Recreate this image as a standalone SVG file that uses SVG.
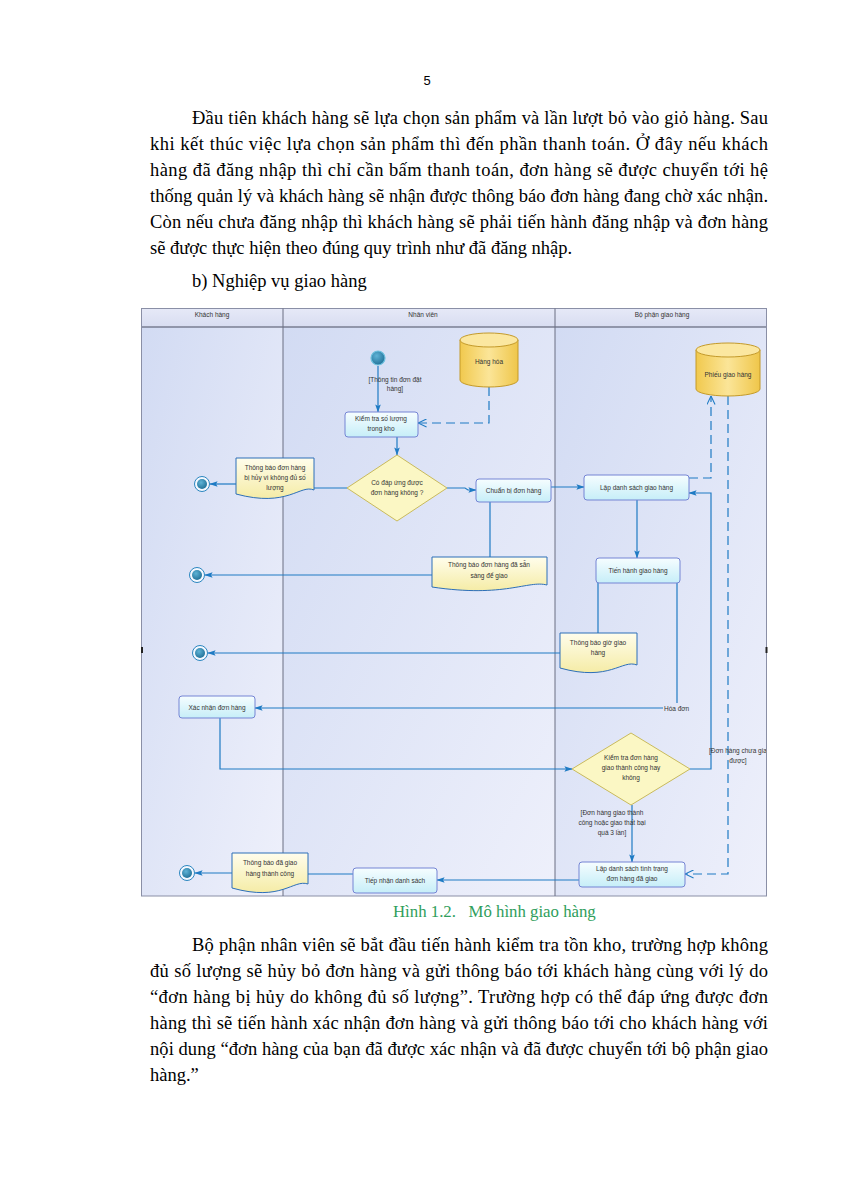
<svg xmlns="http://www.w3.org/2000/svg" width="849" height="1200" viewBox="0 0 849 1200">
<style>
.body{font-family:"Liberation Serif","Times New Roman",serif;font-size:18.5px;fill:#000}
.cap{font-family:"Liberation Serif","Times New Roman",serif;font-size:16.8px;fill:#2f9e5c}
.t{font-family:"Liberation Sans",Arial,sans-serif;font-size:6.5px;fill:#333;text-anchor:middle}
.ts{font-family:"Liberation Sans",Arial,sans-serif;font-size:6.5px;fill:#333}
.box{fill:url(#gBox);stroke:#7484d4;stroke-width:1}
.doc{fill:url(#gDoc);stroke:#2d6fb8;stroke-width:1}
.dia{fill:#fbf7c4;stroke:#c9ba5c;stroke-width:1}
.cyl{fill:url(#gCyl);stroke:#c49a2a;stroke-width:1}
.cylTop{fill:#fbe7a0;stroke:#c49a2a;stroke-width:1}
.c{fill:none;stroke:#1f7bc4;stroke-width:1.2}
.ca{fill:none;stroke:#1f7bc4;stroke-width:1.2;marker-end:url(#arr)}
.cd{fill:none;stroke:#1f7bc4;stroke-width:1.2;stroke-dasharray:9,5;marker-end:url(#open)}
.lane{fill:url(#gLane)}
</style>
<defs>
<linearGradient id="gLane" x1="0" y1="0" x2="1" y2="1">
<stop offset="0" stop-color="#d2dbf3"/>
<stop offset="1" stop-color="#eef0fb"/>
</linearGradient>
<linearGradient id="gHead" x1="0" y1="0" x2="0" y2="1">
<stop offset="0" stop-color="#e6e9f7"/>
<stop offset="1" stop-color="#d8ddf1"/>
</linearGradient>
<linearGradient id="gBox" x1="0" y1="0" x2="0" y2="1">
<stop offset="0" stop-color="#f6fdff"/>
<stop offset="1" stop-color="#c6eef8"/>
</linearGradient>
<linearGradient id="gDoc" x1="0" y1="0" x2="0" y2="1">
<stop offset="0" stop-color="#fffdec"/>
<stop offset="1" stop-color="#f5eca6"/>
</linearGradient>
<linearGradient id="gCyl" x1="0" y1="0" x2="1" y2="0">
<stop offset="0" stop-color="#f1c94e"/>
<stop offset="0.5" stop-color="#fbe598"/>
<stop offset="1" stop-color="#efc64a"/>
</linearGradient>
<radialGradient id="gNode" cx="0.4" cy="0.35" r="0.7">
<stop offset="0" stop-color="#5fb3d6"/>
<stop offset="1" stop-color="#1f6f96"/>
</radialGradient>
<marker id="arr" viewBox="0 0 10 8" refX="9.5" refY="4" markerWidth="8" markerHeight="6.5" markerUnits="userSpaceOnUse" orient="auto">
<path d="M0,0.5 L10,4 L0,7.5 L2,4 Z" fill="#1f7bc4"/>
</marker>
<marker id="open" viewBox="0 0 10 10" refX="9.5" refY="5" markerWidth="9" markerHeight="9" markerUnits="userSpaceOnUse" orient="auto">
<path d="M0,0.5 L9.5,5 L0,9.5" fill="none" stroke="#1f7bc4" stroke-width="1.2"/>
</marker>
<clipPath id="frameClip"><rect x="141" y="308" width="625" height="588"/></clipPath>
</defs>

<rect x="0" y="0" width="849" height="1200" fill="#fff"/>

<!-- page text -->
<text x="427" y="85" font-family="Liberation Sans,Arial,sans-serif" font-size="13" text-anchor="middle">5</text>
<text class="body" x="192" y="124" textLength="576" lengthAdjust="spacing">Đầu tiên khách hàng sẽ lựa chọn sản phẩm và lần lượt bỏ vào giỏ hàng. Sau</text>
<text class="body" x="150" y="150" textLength="618" lengthAdjust="spacing">khi kết thúc việc lựa chọn sản phẩm thì đến phần thanh toán. Ở đây nếu khách</text>
<text class="body" x="150" y="176" textLength="618" lengthAdjust="spacing">hàng đã đăng nhập thì chỉ cần bấm thanh toán, đơn hàng sẽ được chuyển tới hệ</text>
<text class="body" x="150" y="202" textLength="618" lengthAdjust="spacing">thống quản lý và khách hàng sẽ nhận được thông báo đơn hàng đang chờ xác nhận.</text>
<text class="body" x="150" y="228" textLength="618" lengthAdjust="spacing">Còn nếu chưa đăng nhập thì khách hàng sẽ phải tiến hành đăng nhập và đơn hàng</text>
<text class="body" x="150" y="254">sẽ được thực hiện theo đúng quy trình như đã đăng nhập.</text>
<text class="body" x="192" y="287">b) Nghiệp vụ giao hàng</text>

<!-- swimlanes -->
<g id="swimlanes">
<rect class="lane" x="141.5" y="327" width="141.5" height="569"/>
<rect class="lane" x="283" y="327" width="272" height="569"/>
<rect class="lane" x="555" y="327" width="211.5" height="569"/>
<rect x="141.5" y="308.5" width="625" height="18.5" fill="url(#gHead)"/>
<line x1="141.5" y1="327" x2="766.5" y2="327" stroke="#4a4f63" stroke-width="1.2"/>
<rect x="141.5" y="308.5" width="625" height="587.5" fill="none" stroke="#8a8fa6" stroke-width="1"/>
<line x1="283" y1="308.5" x2="283" y2="896" stroke="#6a6f82" stroke-width="1"/>
<line x1="555" y1="308.5" x2="555" y2="896" stroke="#6a6f82" stroke-width="1"/>
<text class="t" x="212" y="317">Khách hàng</text>
<text class="t" x="423" y="317">Nhân viên</text>
<text class="t" x="662" y="317">Bộ phận giao hàng</text>
<rect x="141" y="647" width="2" height="6" fill="#222"/>
<rect x="765.5" y="647" width="2" height="6" fill="#222"/>
</g>

<!-- connectors -->
<g id="connectors">
<path class="ca" d="M378,366 V412"/>
<path class="ca" d="M397,437 V455"/>
<path class="cd" d="M489,387 V423 H418"/>
<path class="c" d="M347,488 H314"/>
<path class="ca" d="M236,484 H210"/>
<path class="ca" d="M447,488 H465 L468,490 H476"/>
<path class="ca" d="M551,487 H584"/>
<path class="c" d="M490,502 V557"/>
<path class="ca" d="M432,575 H205"/>
<path class="cd" d="M689,478 H711 V396"/>
<path class="ca" d="M637,500 V558"/>
<path class="c" d="M598,583 V633"/>
<path class="ca" d="M560,653 H208"/>
<path class="c" d="M677,583 V703"/>
<path class="ca" d="M663,708 H255"/>
<path class="ca" d="M220,718 V769 H572"/>
<path class="ca" d="M690,769 H711 V493 H689"/>
<path class="ca" d="M632,805 V862"/>
<path class="cd" d="M728,396 V874 H685"/>
<path class="ca" d="M579,880 H437"/>
<path class="c" d="M353,874 H308"/>
<path class="ca" d="M232,873 H195"/>
<text class="t" x="395" y="382">[Thông tin đơn đặt</text>
<text class="t" x="395" y="391">hàng]</text>
<text class="ts" x="664" y="710.5">Hóa đơn</text>
<g clip-path="url(#frameClip)">
<text class="ts" x="709" y="753">[Đơn hàng chưa giao</text>
<text class="t" x="738" y="763">được]</text>
</g>
<text class="t" x="612" y="815">[Đơn hàng giao thành</text>
<text class="t" x="612" y="825">công hoặc giao thất bại</text>
<text class="t" x="612" y="835">quá 3 lần]</text>
</g>

<!-- nodes -->
<g id="start">
<circle cx="378" cy="358" r="7" fill="url(#gNode)" stroke="#6cc0de" stroke-width="1.2"/>
</g>
<g id="end1">
<circle cx="202" cy="484" r="7.5" fill="#f4f8ff" stroke="#2a86c0" stroke-width="1"/>
<circle cx="202" cy="484" r="5" fill="url(#gNode)"/>
</g>
<g id="end2">
<circle cx="197" cy="575" r="7.5" fill="#f4f8ff" stroke="#2a86c0" stroke-width="1"/>
<circle cx="197" cy="575" r="5" fill="url(#gNode)"/>
</g>
<g id="end3">
<circle cx="200" cy="653" r="7.5" fill="#f4f8ff" stroke="#2a86c0" stroke-width="1"/>
<circle cx="200" cy="653" r="5" fill="url(#gNode)"/>
</g>
<g id="end4">
<circle cx="187" cy="873" r="7.5" fill="#f4f8ff" stroke="#2a86c0" stroke-width="1"/>
<circle cx="187" cy="873" r="5" fill="url(#gNode)"/>
</g>

<g id="hanghoa">
<path class="cyl" d="M460,340 V380 A29,7 0 0 0 518,380 V340 Z"/>
<ellipse class="cylTop" cx="489" cy="340" rx="29" ry="7"/>
<text class="t" x="489" y="364">Hàng hóa</text>
</g>
<g id="phieugiaohang">
<path class="cyl" d="M696,350 V389 A32,7 0 0 0 760,389 V350 Z"/>
<ellipse class="cylTop" cx="728" cy="350" rx="32" ry="7"/>
<text class="t" x="728" y="377">Phiếu giao hàng</text>
</g>

<g id="kiemtra">
<rect class="box" x="345" y="412" width="73" height="25" rx="3"/>
<text class="t" x="381" y="421">Kiểm tra số lượng</text>
<text class="t" x="381" y="431">trong kho</text>
</g>
<g id="codapung">
<polygon class="dia" points="397,455 447,488 397,521 347,488"/>
<text class="t" x="397" y="485">Có đáp ứng được</text>
<text class="t" x="397" y="495">đơn hàng không ?</text>
</g>
<g id="huy">
<path class="doc" d="M236,458 H314 V490 C300,484 288,508 236,494 Z"/>
<text class="t" x="275" y="470">Thông báo đơn hàng</text>
<text class="t" x="275" y="480">bị hủy vì không đủ số</text>
<text class="t" x="275" y="490">lượng</text>
</g>
<g id="chuanbi">
<rect class="box" x="476" y="479" width="75" height="23" rx="3"/>
<text class="t" x="513.5" y="492.5">Chuẩn bị đơn hàng</text>
</g>
<g id="sansang">
<path class="doc" d="M432,557 H547 V585 C528,580 505,598 432,587 Z"/>
<text class="t" x="489" y="567">Thông báo đơn hàng đã sẵn</text>
<text class="t" x="489" y="578">sàng để giao</text>
</g>
<g id="lapdanhsach">
<rect class="box" x="584" y="475" width="105" height="25" rx="3"/>
<text class="t" x="636.5" y="490">Lập danh sách giao hàng</text>
</g>
<g id="tienhanh">
<rect class="box" x="596" y="558" width="84" height="25" rx="3"/>
<text class="t" x="638" y="573">Tiến hành giao hàng</text>
</g>
<g id="giogiao">
<path class="doc" d="M560,633 H637 V665 C622,659 610,682 560,668 Z"/>
<text class="t" x="598" y="645">Thông báo giờ giao</text>
<text class="t" x="598" y="655">hàng</text>
</g>
<g id="xacnhan">
<rect class="box" x="179" y="696" width="76" height="22" rx="3"/>
<text class="t" x="217" y="709.5">Xác nhận đơn hàng</text>
</g>
<g id="kiemtragiao">
<polygon class="dia" points="631,733 690,769 631,805 572,769"/>
<text class="t" x="631" y="760">Kiểm tra đơn hàng</text>
<text class="t" x="631" y="770">giao thành công hay</text>
<text class="t" x="631" y="780">không</text>
</g>
<g id="lapdstinhtrang">
<rect class="box" x="579" y="862" width="106" height="25" rx="3"/>
<text class="t" x="632" y="871">Lập danh sách tình trạng</text>
<text class="t" x="632" y="881">đơn hàng đã giao</text>
</g>
<g id="tiepnhan">
<rect class="box" x="353" y="868" width="84" height="25" rx="3"/>
<text class="t" x="395" y="883">Tiếp nhận danh sách</text>
</g>
<g id="dagiao">
<path class="doc" d="M232,853 H308 V884 C293,879 282,902 232,888 Z"/>
<text class="t" x="270" y="865">Thông báo đã giao</text>
<text class="t" x="270" y="876">hàng thành công</text>
</g>

<!-- caption and following text -->
<text class="cap" x="393" y="917" xml:space="preserve">Hình 1.2.   Mô hình giao hàng</text>
<text class="body" x="192" y="951" textLength="576" lengthAdjust="spacing">Bộ phận nhân viên sẽ bắt đầu tiến hành kiểm tra tồn kho, trường hợp không</text>
<text class="body" x="150" y="977" textLength="618" lengthAdjust="spacing">đủ số lượng sẽ hủy bỏ đơn hàng và gửi thông báo tới khách hàng cùng với lý do</text>
<text class="body" x="150" y="1003" textLength="618" lengthAdjust="spacing">“đơn hàng bị hủy do không đủ số lượng”. Trường hợp có thể đáp ứng được đơn</text>
<text class="body" x="150" y="1029" textLength="618" lengthAdjust="spacing">hàng thì sẽ tiến hành xác nhận đơn hàng và gửi thông báo tới cho khách hàng với</text>
<text class="body" x="150" y="1055" textLength="618" lengthAdjust="spacing">nội dung “đơn hàng của bạn đã được xác nhận và đã được chuyển tới bộ phận giao</text>
<text class="body" x="150" y="1081">hàng.”</text>
</svg>
